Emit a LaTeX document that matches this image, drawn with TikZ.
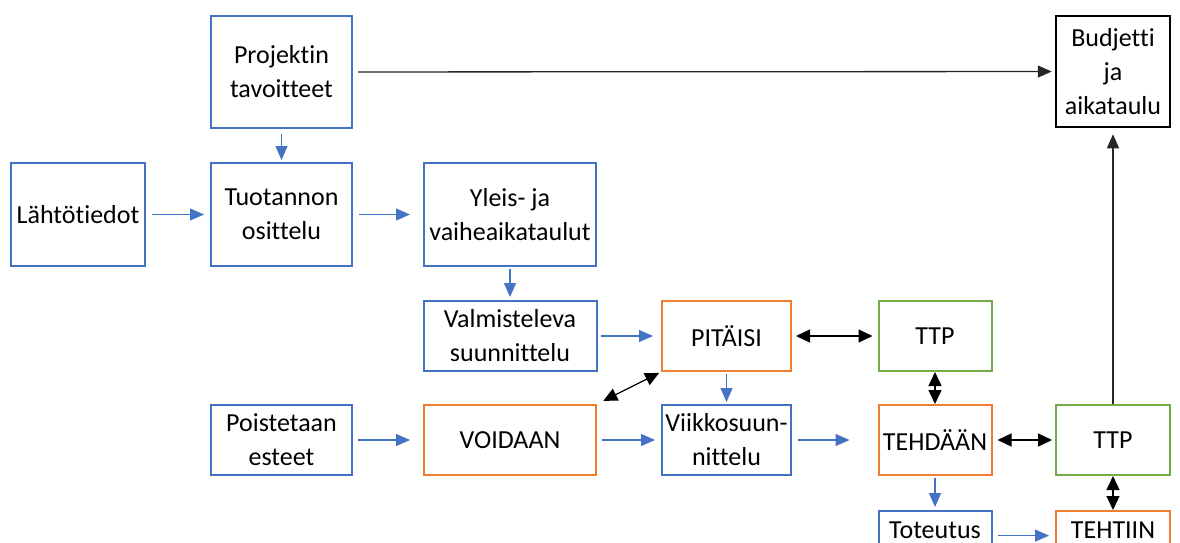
\documentclass[tikz,border=0pt]{standalone}
\usepackage{fontspec}
\setmainfont{Carlito}[Ligatures=NoCommon]
\usetikzlibrary{arrows.meta}

\definecolor{wblue}{HTML}{4472C4}
\definecolor{worange}{HTML}{ED7D31}
\definecolor{wgreen}{HTML}{70AD47}

\begin{document}
\begin{tikzpicture}[
    x=1pt, y=-1pt,
    box/.style={draw, line width=2pt, align=center, inner sep=3pt, minimum height=70pt,
        font=\fontsize{26}{34}\selectfont},
    bluebox/.style={box, draw=wblue},
    orangebox/.style={box, draw=worange},
    greenbox/.style={box, draw=wgreen},
    cutbox/.style={anchor=north, text height=24pt, text depth=40pt},
    flow/.style={draw=wblue, line width=1.3pt, -{Triangle[length=14pt, width=12pt]}},
    link/.style={draw=black, line width=1.3pt,
        {Triangle[length=14pt, width=13pt]}-{Triangle[length=14pt, width=13pt]}},
    feed/.style={draw=black!85, line width=1.3pt, -{Triangle[length=14pt, width=12pt]}},
]
\useasboundingbox (0,0) rectangle (1180,543);
\clip (0,0) rectangle (1180,543);

\node[bluebox, minimum width=141pt, minimum height=112pt] (tavoitteet) at (281.5,72) {Projektin\\tavoitteet};
\node[bluebox, minimum width=134pt, minimum height=103pt] (lahto) at (78,214.5) {Lähtötiedot};
\node[bluebox, minimum width=141pt, minimum height=103pt] (osittelu) at (281.5,214.5) {Tuotannon\\osittelu};
\node[bluebox, minimum width=172pt, minimum height=103pt] (yleis) at (510,214.5) {Yleis- ja\\vaiheaikataulut};
\node[bluebox, minimum width=173pt] (valmistelu) at (510,336) {Valmisteleva\\suunnittelu};
\node[orangebox, minimum width=129pt] (pitaisi) at (726.5,336) {PITÄISI};
\node[greenbox, minimum width=113pt] (ttpa) at (935,336) {TTP};
\node[bluebox, minimum width=141pt] (poisto) at (281.5,440) {Poistetaan\\esteet};
\node[orangebox, minimum width=172pt] (voidaan) at (510,440) {VOIDAAN};
\node[bluebox, minimum width=129pt] (viikko) at (726.5,440) {Viikkosuun-\\nittelu};
\node[orangebox, minimum width=113pt] (tehdaan) at (935,440) {TEHDÄÄN};
\node[greenbox, minimum width=114pt] (ttpb) at (1113,440) {TTP};
\node[bluebox, cutbox, minimum width=113pt] (toteutus) at (935,510) {Toteutus};
\node[orangebox, cutbox, minimum width=114pt] (tehtiin) at (1113,510) {TEHTIIN};
\node[box, line width=2.5pt, minimum width=114pt, minimum height=111pt] (budjetti) at (1113,71.5) {Budjetti\\ja\\aikataulu};

\foreach \a/\b/\s/\e in {lahto/osittelu/6/6, osittelu/yleis/6/13, valmistelu/pitaisi/3/8,
    poisto/voidaan/5/13, voidaan/viikko/5/6, viikko/tehdaan/6/28,
    tavoitteet/osittelu/5/2, yleis/valmistelu/2/3, pitaisi/viikko/2/2, tehdaan/toteutus/2/3} {
    \draw[flow, shorten <=\s pt, shorten >=\e pt] (\a) -- (\b);
}
\draw[flow, shorten <=5pt, shorten >=6pt] (toteutus.mid east) -- (tehtiin.mid west);

\foreach \a/\b/\s/\e in {pitaisi/ttpa/4/5, ttpa/tehdaan/0/0, tehdaan/ttpb/5/3, ttpb/tehtiin/0/0} {
    \draw[link, shorten <=\s pt, shorten >=\e pt] (\a) -- (\b);
}
\draw[link, shorten <=7pt, shorten >=2pt] (voidaan.north east) -- (pitaisi.south west);

\draw[feed, shorten <=5pt, shorten >=3pt] (tavoitteet) -- (budjetti);
\draw[feed, shorten >=6pt] (ttpb) -- (budjetti);
\end{tikzpicture}
\end{document}
